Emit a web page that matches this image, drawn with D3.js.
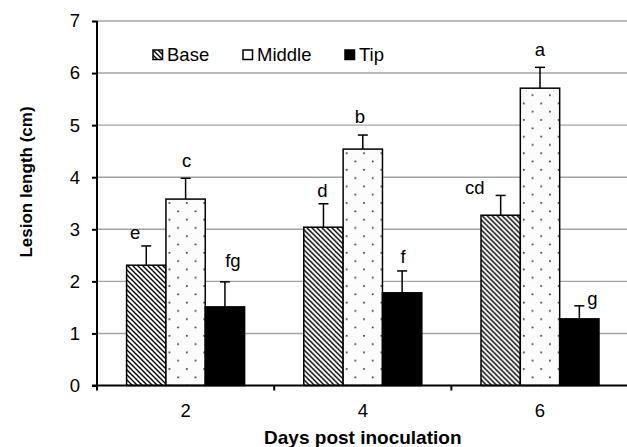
<!DOCTYPE html>
<html>
<head>
<meta charset="utf-8">
<script src="https://cdn.jsdelivr.net/npm/d3@7"></script>
<style>
	body { margin: 0; background: #fff; }
	text { font-family: "Liberation Sans", Arial, sans-serif; fill: #000; }
</style>
</head>
<body>
<svg id="chartSVG"></svg>
<script>
// data
var days = ['2', '4', '6'];
var series = ['Base', 'Middle', 'Tip'];
var base = [2.31, 3.04, 3.27];
var middle = [3.58, 4.54, 5.71];
var tip = [1.51, 1.78, 1.28];
var baseErr = [0.37, 0.45, 0.38];
var middleErr = [0.40, 0.27, 0.40];
var tipErr = [0.48, 0.42, 0.25];
var baseLetters = ['e', 'd', 'cd'];
var middleLetters = ['c', 'b', 'a'];
var tipLetters = ['fg', 'f', 'g'];
var yTicks = [0, 1, 2, 3, 4, 5, 6, 7];

var svgDimensions = { width: 627, height: 447 };
var plot = { left: 97, right: 628.6, top: 21, bottom: 385.5 };

// letter placement tweaks (dx from bar centre, dy above the cap)
var letterNudge = {
	Base: [[-11, 7], [-1, 7], [-26, 1]],
	Middle: [[1, 11], [-3, 12], [0, 11]],
	Tip: [[8, 15], [1, 8], [13, 1]]
};

var values = { Base: base, Middle: middle, Tip: tip };
var errs = { Base: baseErr, Middle: middleErr, Tip: tipErr };
var letters = { Base: baseLetters, Middle: middleLetters, Tip: tipLetters };

var svg = d3.select('#chartSVG')
	.attr('width', svgDimensions.width)
	.attr('height', svgDimensions.height);

var defs = svg.append('defs');

var hatch = defs.append('pattern')
	.attr('id', 'hatch')
	.attr('patternUnits', 'userSpaceOnUse')
	.attr('width', 5)
	.attr('height', 5);
hatch.append('rect').attr('width', 5).attr('height', 5).attr('fill', '#fff');
hatch.append('path')
	.attr('d', 'M-1,-1 L6,6 M-1,4 L1,6 M4,-1 L6,1')
	.attr('stroke', '#000')
	.attr('stroke-width', 1.4);

var dots = defs.append('pattern')
	.attr('id', 'dots')
	.attr('patternUnits', 'userSpaceOnUse')
	.attr('width', 17.4)
	.attr('height', 16.6);
dots.append('rect').attr('width', 17.4).attr('height', 16.6).attr('fill', '#fcfcfc');
dots.append('rect').attr('x', 2).attr('y', 3).attr('width', 1.6).attr('height', 1.6).attr('fill', '#222');
dots.append('rect').attr('x', 10.7).attr('y', 11.3).attr('width', 1.6).attr('height', 1.6).attr('fill', '#222');

var fills = { Base: 'url(#hatch)', Middle: 'url(#dots)', Tip: '#000' };

var x0 = d3.scaleBand()
	.domain(days)
	.range([plot.left, plot.right])
	.padding(0);

var step = x0.bandwidth();
var x1 = d3.scaleBand()
	.domain(series)
	.range([step * 0.167, step * 0.833])
	.padding(0);

var y = d3.scaleLinear()
	.domain([0, 7])
	.range([plot.bottom, plot.top]);

// gridlines
svg.append('g')
	.selectAll('line')
	.data(yTicks.slice(1))
	.enter().append('line')
	.attr('x1', plot.left)
	.attr('x2', svgDimensions.width)
	.attr('y1', function(d) { return y(d); })
	.attr('y2', function(d) { return y(d); })
	.attr('stroke', '#a3a3a3')
	.attr('stroke-width', 1.4);

// bars
var groups = svg.append('g')
	.selectAll('g')
	.data(days)
	.enter().append('g')
	.attr('transform', function(d) { return 'translate(' + x0(d) + ',0)'; });

groups.selectAll('rect')
	.data(function(d, i) {
		return series.map(function(s) { return { s: s, i: i, v: values[s][i] }; });
	})
	.enter().append('rect')
	.attr('x', function(d) { return x1(d.s); })
	.attr('y', function(d) { return y(d.v); })
	.attr('width', x1.bandwidth())
	.attr('height', function(d) { return y(0) - y(d.v); })
	.attr('fill', function(d) { return fills[d.s]; })
	.attr('stroke', '#000')
	.attr('stroke-width', 1.5);

// error bars (upper only)
var errG = groups.selectAll('g.err')
	.data(function(d, i) {
		return series.map(function(s) { return { s: s, i: i, v: values[s][i], e: errs[s][i] }; });
	})
	.enter().append('g')
	.attr('class', 'err');

errG.append('line')
	.attr('x1', function(d) { return x1(d.s) + x1.bandwidth() / 2; })
	.attr('x2', function(d) { return x1(d.s) + x1.bandwidth() / 2; })
	.attr('y1', function(d) { return y(d.v); })
	.attr('y2', function(d) { return y(d.v + d.e); })
	.attr('stroke', '#000')
	.attr('stroke-width', 1.5);

errG.append('line')
	.attr('x1', function(d) { return x1(d.s) + x1.bandwidth() / 2 - 5; })
	.attr('x2', function(d) { return x1(d.s) + x1.bandwidth() / 2 + 5; })
	.attr('y1', function(d) { return y(d.v + d.e); })
	.attr('y2', function(d) { return y(d.v + d.e); })
	.attr('stroke', '#000')
	.attr('stroke-width', 1.5);

errG.append('text')
	.attr('x', function(d) { return x1(d.s) + x1.bandwidth() / 2 + letterNudge[d.s][d.i][0]; })
	.attr('y', function(d) { return y(d.v + d.e) - letterNudge[d.s][d.i][1]; })
	.attr('text-anchor', 'middle')
	.attr('font-size', '18.5px')
	.text(function(d) { return letters[d.s][d.i]; });

// y axis
var yAxis = svg.append('g')
	.attr('transform', 'translate(' + plot.left + ',0)')
	.call(d3.axisLeft(y).tickValues(yTicks).tickSize(5).tickPadding(12).tickFormat(d3.format('d')));
yAxis.select('.domain').attr('stroke', '#000').attr('stroke-width', 2).attr('d', 'M0,' + plot.top + 'V' + plot.bottom);
yAxis.selectAll('.tick line').attr('stroke', '#000').attr('stroke-width', 2);
yAxis.selectAll('text').attr('font-size', '18.5px').attr('font-family', '"Liberation Sans", Arial, sans-serif');

// x axis
svg.append('line')
	.attr('x1', plot.left - 5)
	.attr('x2', svgDimensions.width)
	.attr('y1', plot.bottom)
	.attr('y2', plot.bottom)
	.attr('stroke', '#000')
	.attr('stroke-width', 2);

svg.append('g')
	.selectAll('line')
	.data(days)
	.enter().append('line')
	.attr('x1', function(d) { return x0(d); })
	.attr('x2', function(d) { return x0(d); })
	.attr('y1', plot.bottom)
	.attr('y2', plot.bottom + 5)
	.attr('stroke', '#000')
	.attr('stroke-width', 2);

svg.append('g')
	.selectAll('text')
	.data(days)
	.enter().append('text')
	.attr('x', function(d) { return x0(d) + step / 2; })
	.attr('y', plot.bottom + 31)
	.attr('text-anchor', 'middle')
	.attr('font-size', '18.5px')
	.text(function(d) { return d; });

// axis titles
svg.append('text')
	.attr('x', (plot.left + plot.right) / 2)
	.attr('y', 444)
	.attr('text-anchor', 'middle')
	.attr('font-size', '19px')
	.attr('font-weight', 'bold')
	.text('Days post inoculation');

svg.append('text')
	.attr('transform', 'translate(32,182) rotate(-90)')
	.attr('text-anchor', 'middle')
	.attr('font-size', '17px')
	.attr('font-weight', 'bold')
	.text('Lesion length (cm)');

// legend
var legendX = [153, 243, 345];
var legend = svg.append('g')
	.selectAll('g')
	.data(series)
	.enter().append('g')
	.attr('transform', function(d, i) { return 'translate(' + legendX[i] + ',50)'; });

legend.append('rect')
	.attr('width', 9.5)
	.attr('height', 9.5)
	.attr('fill', function(d) { return d === 'Middle' ? '#fff' : fills[d]; })
	.attr('stroke', '#000')
	.attr('stroke-width', 1.5);

legend.append('text')
	.attr('x', 14)
	.attr('y', 11)
	.attr('font-size', '18.5px')
	.text(function(d) { return d; });
</script>
</body>
</html>
